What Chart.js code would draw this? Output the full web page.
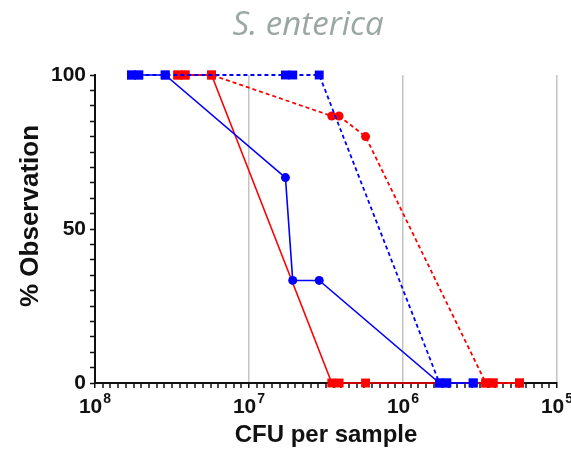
<!DOCTYPE html>
<html>
<head>
<meta charset="utf-8">
<script src="https://cdn.jsdelivr.net/npm/chart.js@4"></script>
<style>
  html, body { margin: 0; padding: 0; background: #fff; }
  #wrap { width: 571px; height: 450px; }
</style>
</head>
<body>
<div id="wrap"><canvas id="chart"></canvas></div>
<script>
// =============================
// DATA
// =============================
const chartTitle = "S. enterica";
const xTitle = "CFU per sample";
const yTitle = "% Observation";
const blueCfu = [5.8e7, 5.2e7, 3.5e7, 5.8e6, 5.2e6, 3.5e6, 5.8e5, 5.2e5, 3.5e5];
const blueSolid = [100, 100, 100, 66.7, 33.3, 33.3, 0, 0, 0];
const blueDashed = [100, 100, 100, 100, 100, 100, 0, 0, 0];
const redCfu = [2.9e7, 2.6e7, 1.75e7, 2.9e6, 2.6e6, 1.75e6, 2.9e5, 2.6e5, 1.75e5];
const redSolid = [100, 100, 100, 0, 0, 0, 0, 0, 0];
const redDashed = [100, 100, 100, 86.7, 86.7, 80, 0, 0, 0];
const yTickLabels = [0, 50, 100];
const xDecades = [8, 7, 6, 5];

const FONT = "'Liberation Sans', Arial, sans-serif";

function pts(xs, ys) {
  return xs.map((x, i) => ({ x: x, y: ys[i] }));
}

// squares on 0 / 100, circles in between
function markerStyle(ctx) {
  const v = ctx.raw ? ctx.raw.y : 0;
  return (v === 0 || v === 100) ? "rect" : "circle";
}
function markerSize(ctx) {
  const v = ctx.raw ? ctx.raw.y : 0;
  return (v === 0 || v === 100) ? 6.3 : 4.5;
}

function series(label, xs, ys, color, dashed) {
  return {
    label: label,
    data: pts(xs, ys),
    borderColor: color,
    backgroundColor: color,
    borderWidth: dashed ? 1.8 : 1.6,
    borderDash: dashed ? [4, 3] : [],
    pointStyle: markerStyle,
    pointRadius: markerSize,
    pointBorderWidth: 0,
    pointBorderColor: color,
    tension: 0,
    clip: false
  };
}

const isDecade = v => {
  const e = Math.log10(v);
  return Math.abs(e - Math.round(e)) < 1e-6;
};

// title, y title and 10^n labels drawn by hand (real text, just placed like the figure)
const textPlugin = {
  id: "figText",
  afterDraw(chart) {
    const c = chart.ctx;
    const xs = chart.scales.x;
    c.save();

    c.font = "italic 33px 'Open Sans'";
    c.fillStyle = "#9ba7a3";
    c.textAlign = "center";
    c.textBaseline = "middle";
    c.fillText(chartTitle, 308, 26);

    c.fillStyle = "#111";
    c.save();
    c.translate(31, 216);
    c.rotate(-Math.PI / 2);
    c.font = "bold 26px " + FONT;
    c.fillText(yTitle, 0, 0);
    c.restore();

    c.textBaseline = "alphabetic";
    c.textAlign = "left";
    xDecades.forEach(e => {
      const px = xs.getPixelForValue(Math.pow(10, e));
      c.font = "bold 21px " + FONT;
      const wBase = c.measureText("10").width;
      c.font = "bold 14px " + FONT;
      const wExp = c.measureText(String(e)).width;
      const x0 = px - (wBase + wExp + 1) / 2;
      c.font = "bold 21px " + FONT;
      c.fillText("10", x0, 413);
      c.font = "bold 14px " + FONT;
      c.fillText(String(e), x0 + wBase + 1, 403);
    });
    c.restore();
  }
};

new Chart(document.getElementById("chart"), {
  type: "line",
  data: {
    datasets: [
      series("Blue", blueCfu, blueSolid, "#0000ff", false),
      series("Blue dashed", blueCfu, blueDashed, "#0000ff", true),
      series("Red", redCfu, redSolid, "#ff0000", false),
      series("Red dashed", redCfu, redDashed, "#ff0000", true)
    ]
  },
  options: {
    responsive: true,
    maintainAspectRatio: false,
    animation: false,
    layout: { padding: { top: 75, right: 14, bottom: 0, left: 0 } },
    plugins: {
      legend: { display: false },
      tooltip: { enabled: false }
    },
    scales: {
      x: {
        type: "logarithmic",
        reverse: true,
        min: Math.pow(10, xDecades[xDecades.length - 1]),
        max: Math.pow(10, xDecades[0]),
        afterBuildTicks(scale) {
          const t = [];
          for (let k = 0; k <= 60; k++) t.push({ value: Math.pow(10, 8 - k / 20) });
          scale.ticks = t;
        },
        afterFit(scale) {
          scale.height = 67;
          scale.paddingLeft = 0;
          scale.paddingRight = 0;
        },
        ticks: {
          autoSkip: false,
          maxRotation: 0,
          callback() { return ""; }
        },
        grid: {
          drawOnChartArea: true,
          tickLength: 5,
          lineWidth: ctx => (ctx.tick && isDecade(ctx.tick.value)) ? 1.5 : 0,
          color: ctx => (ctx.tick && isDecade(ctx.tick.value) && ctx.tick.value < 1e8) ? "#c4c4c4" : "rgba(0,0,0,0)",
          tickColor: "#111",
          tickWidth: 1.5
        },
        border: { display: true, color: "#111", width: 2 },
        title: {
          display: true,
          text: xTitle,
          color: "#111",
          padding: { top: 0, bottom: 0 },
          font: { family: FONT, size: 24, weight: "bold" }
        }
      },
      y: {
        min: 0,
        max: 100,
        afterBuildTicks(scale) {
          const t = [];
          for (let v = 0; v <= 100; v += 5) t.push({ value: v });
          scale.ticks = t;
        },
        afterFit(scale) {
          scale.width = 95;
        },
        ticks: {
          autoSkip: false,
          padding: 4,
          color: "#111",
          font: { family: FONT, size: 21, weight: "bold" },
          callback(value) {
            return yTickLabels.includes(value) ? String(value) : "";
          }
        },
        grid: {
          drawOnChartArea: false,
          tickLength: 5,
          tickColor: "#111",
          tickWidth: 1.5
        },
        border: { display: true, color: "#111", width: 2 }
      }
    }
  },
  plugins: [textPlugin]
});
</script>
</body>
</html>
